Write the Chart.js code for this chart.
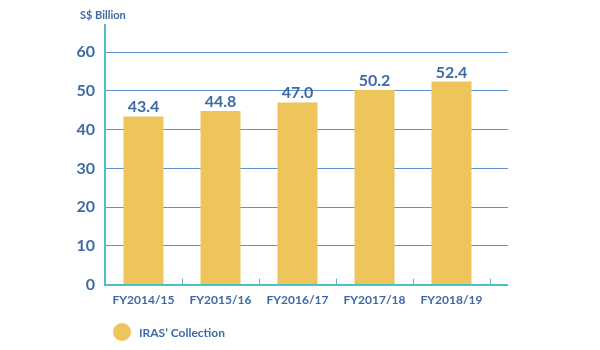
<!DOCTYPE html>
<html>
<head>
<meta charset="utf-8">
<script src="https://cdn.jsdelivr.net/npm/chart.js@4"></script>
<style>
  body { margin: 0; background: #fff; }
  #wrap { width: 600px; height: 350px; position: relative; }
</style>
</head>
<body>
<div id="wrap"><canvas id="chart"></canvas></div>
<script>
// Data
const years = ['FY2014/15', 'FY2015/16', 'FY2016/17', 'FY2017/18', 'FY2018/19'];
const collection = [43.4, 44.8, 47.0, 50.2, 52.4];
const yTicks = [0, 10, 20, 30, 40, 50, 60];
const seriesName = 'IRAS\u2019 Collection';

const blueText = '#3d6aa6';
const gridBlue = '#5f92cc';
const teal = '#4fbfc6';
const gold = '#edc55b';
const font = 'Lato, "Open Sans", sans-serif';
const extend = 18; // axis and gridlines run a bit past the last bar slot

// extra bits: unit label, value labels, small ticks, extended lines, legend
const extras = {
  id: 'extras',
  beforeDatasetsDraw(chart) {
    const { ctx, chartArea, scales } = chart;
    ctx.save();
    ctx.strokeStyle = gridBlue;
    ctx.lineWidth = 1;
    yTicks.forEach(v => {
      if (v === 0) return;
      const y = Math.round(scales.y.getPixelForValue(v) - 0.5) + 0.5;
      ctx.beginPath();
      ctx.moveTo(chartArea.right, y);
      ctx.lineTo(chartArea.right + extend, y);
      ctx.stroke();
    });
    // x axis continuation (same pixel alignment as Chart.js border)
    const yb = Math.round(scales.x.top - 1) + 1;
    ctx.strokeStyle = teal;
    ctx.lineWidth = 2;
    ctx.beginPath();
    ctx.moveTo(chartArea.right - 1, yb);
    ctx.lineTo(chartArea.right + extend, yb);
    ctx.stroke();
    ctx.restore();
  },
  afterDraw(chart) {
    const { ctx, chartArea } = chart;
    ctx.save();
    ctx.fillStyle = blueText;
    ctx.font = 'bold 11px ' + font;
    ctx.textAlign = 'left';
    ctx.textBaseline = 'middle';
    ctx.fillText('S$ Billion', 80, 15);

    // legend
    ctx.fillStyle = gold;
    ctx.beginPath();
    ctx.arc(122, 332, 9, 0, Math.PI * 2);
    ctx.fill();
    ctx.fillStyle = blueText;
    ctx.font = 'bold 12px ' + font;
    ctx.fillText(seriesName, 139, 333);

    ctx.font = 'bold 16px ' + font;
    ctx.textAlign = 'center';
    ctx.textBaseline = 'alphabetic';
    const meta = chart.getDatasetMeta(0);
    meta.data.forEach((bar, i) => {
      ctx.fillText(collection[i].toFixed(1), bar.x, bar.y - 4);
    });

    // small tick marks at category boundaries
    ctx.strokeStyle = teal;
    ctx.lineWidth = 1;
    const w = (chartArea.right - chartArea.left) / years.length;
    for (let i = 1; i <= years.length; i++) {
      const x = Math.round(chartArea.left + i * w) + 0.5;
      ctx.beginPath();
      ctx.moveTo(x, chartArea.bottom);
      ctx.lineTo(x, chartArea.bottom - 6);
      ctx.stroke();
    }
    ctx.restore();
  }
};

new Chart(document.getElementById('chart'), {
  type: 'bar',
  data: {
    labels: years,
    datasets: [{
      label: seriesName,
      data: collection,
      backgroundColor: gold,
      barPercentage: 0.52,
      categoryPercentage: 1
    }]
  },
  options: {
    responsive: true,
    maintainAspectRatio: false,
    animation: false,
    layout: { padding: { left: 20, right: 110, top: 25, bottom: 43 } },
    scales: {
      x: {
        grid: { display: false },
        border: { color: teal, width: 2 },
        ticks: { color: blueText, font: { family: font, size: 12, weight: 'bold' }, padding: 0 }
      },
      y: {
        min: 0,
        max: 67,
        afterBuildTicks(s) { s.ticks = yTicks.map(v => ({ value: v })); },
        afterFit(s) { s.width = 85; },
        grid: { color: gridBlue, drawTicks: false },
        border: { color: teal, width: 2 },
        ticks: { color: blueText, font: { family: font, size: 16, weight: 'bold' }, padding: 10 }
      }
    },
    plugins: {
      legend: { display: false },
      tooltip: { enabled: false }
    }
  },
  plugins: [extras]
});
</script>
</body>
</html>
